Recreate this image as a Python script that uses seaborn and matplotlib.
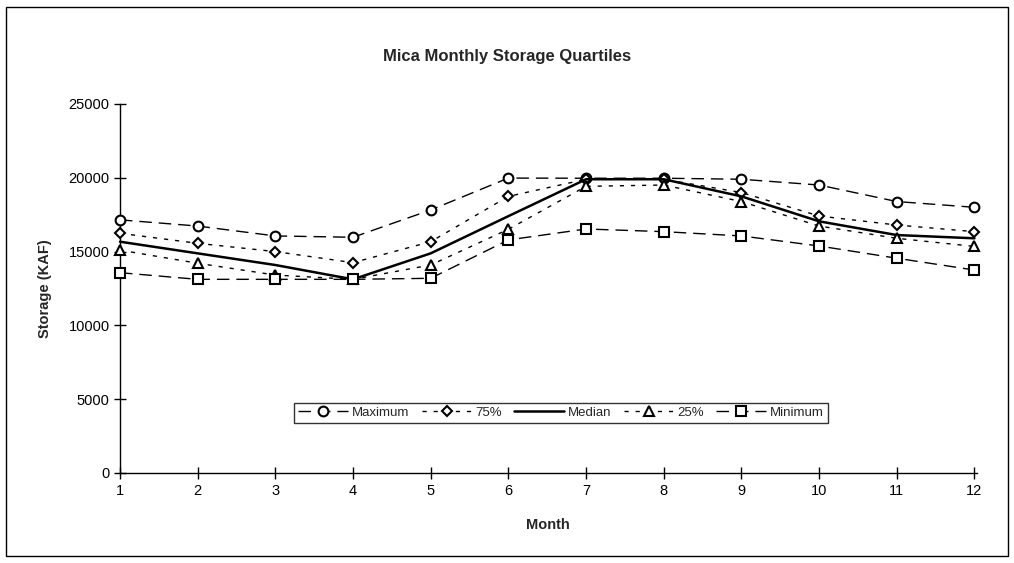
import pandas as pd
import matplotlib.pyplot as plt
import matplotlib.patches as mpatches
import seaborn as sns

# Values
months = [1, 2, 3, 4, 5, 6, 7, 8, 9, 10, 11, 12]
maximum = [17150, 16730, 16060, 15970, 17820, 19980, 19970, 19970, 19900, 19510, 18390, 18000]
p75 = [16240, 15560, 15000, 14250, 15670, 18740, 19900, 19900, 19000, 17410, 16800, 16350]
median = [15670, 14880, 14090, 13120, 14880, 17400, 19900, 19900, 18740, 17050, 16120, 15900]
p25 = [15100, 14210, 13410, 13120, 14090, 16510, 19420, 19510, 18390, 16730, 15900, 15350]
minimum = [13570, 13120, 13120, 13120, 13190, 15790, 16530, 16350, 16060, 15380, 14550, 13750]

sns.set_style("white")
plt.rcParams['font.family'] = ['Liberation Sans', 'DejaVu Sans']

fig = plt.figure(figsize=(10.14, 5.63), dpi=100)
ax = fig.add_axes([0.1183, 0.1599, 0.845, 0.6554])

series = [
    ("Maximum", maximum, "o", (0, (9, 5)), 1.0),
    ("75%", p75, "D", (0, (3, 5)), 1.0),
    ("Median", median, None, "-", 1.8),
    ("25%", p25, "^", (0, (3, 5)), 1.0),
    ("Minimum", minimum, "s", (0, (9, 5)), 1.0),
]

for name, vals, mk, ls, lw in series:
    df = pd.DataFrame({"Month": months, "Storage": vals})
    sns.lineplot(data=df, x="Month", y="Storage", ax=ax, color="black",
                 linestyle=ls, linewidth=lw, marker=mk,
                 markersize=7 if mk != "D" else 5.5, markerfacecolor="white",
                 markeredgecolor="black", markeredgewidth=1.5, label=name,
                 clip_on=False, zorder=3)

ax.set_xlim(1, 12.03)
ax.set_ylim(0, 25000)
ax.set_xticks(months)
ax.set_yticks(range(0, 25001, 5000))
for s in ["top", "right"]:
    ax.spines[s].set_visible(False)
for s in ["left", "bottom"]:
    ax.spines[s].set_color("black")
    ax.spines[s].set_linewidth(1.0)
ax.tick_params(axis="both", direction="inout", length=8, width=1, colors="black",
               labelsize=10.5, bottom=True, left=True)
ax.tick_params(axis="x", pad=4)

ax.set_xlabel("Month", fontsize=10.5, fontweight="bold", labelpad=14)
ax.set_ylabel("Storage (KAF)", fontsize=10.5, fontweight="bold", labelpad=12)
fig.text(0.5, 0.9, "Mica Monthly Storage Quartiles", ha="center", va="center",
         fontsize=12, fontweight="bold")

leg = ax.legend(loc="center", bbox_to_anchor=(0.515, 0.163), ncol=5, frameon=True,
                fontsize=9.5, handlelength=3.8, handletextpad=0.3, columnspacing=0.9,
                borderpad=0.3, fancybox=False, edgecolor="black")
leg.get_frame().set_linewidth(1.0)

fig.patches.append(mpatches.Rectangle((0.006, 0.012), 0.988, 0.976, transform=fig.transFigure,
                                      fill=False, edgecolor="black", linewidth=1.0))

fig.savefig("out.png", dpi=100)
